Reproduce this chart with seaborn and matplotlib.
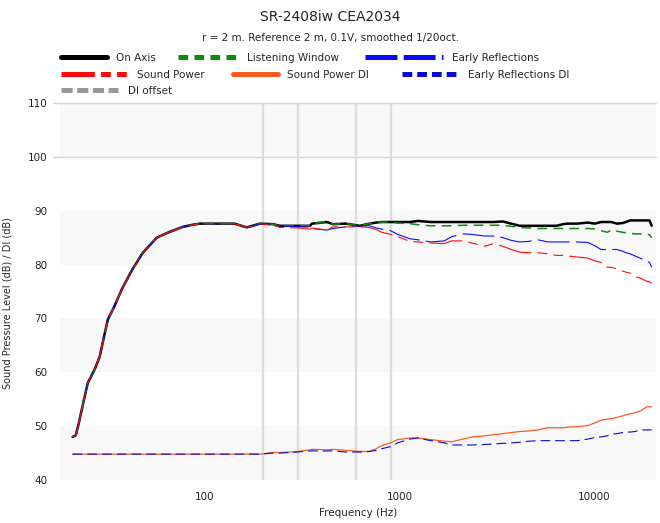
import numpy as np
import pandas as pd
import matplotlib
matplotlib.use("Agg")
import matplotlib.pyplot as plt
from matplotlib.lines import Line2D
from matplotlib.ticker import NullLocator
import seaborn as sns

# data
freq = [20.9, 21.7, 22.5, 23.9, 25.0, 27.1, 28.8, 30.3, 31.7, 34.0, 37.4, 42.2, 48.0, 56.6,
        66.1, 77.1, 86.7, 94.3, 120, 142, 164, 192, 224, 243, 300, 347, 355, 424, 455, 530,
        626, 700, 760, 810, 900, 980, 1130, 1245, 1450, 1700, 1860, 2120, 2360, 2750, 3050,
        3400, 3750, 4150, 4600, 5150, 5800, 6430, 6930, 7300, 8200, 9300, 10100, 10860,
        11700, 12300, 13100, 14000, 14600, 15350, 16260, 17500, 18720, 19300, 19800]

low = [48.0, 48.3, 50.6, 54.9, 58.0, 60.5, 62.9, 66.6, 69.8, 72.0, 75.4, 79.0, 82.2, 85.0,
       86.1, 87.0, 87.4, 87.6, 87.6, 87.6, 86.9, 87.6, 87.5]

on_axis = low + [87.2, 87.2, 87.2, 87.6, 87.9, 87.5, 87.6,
                 87.2, 87.6, 87.8, 87.9, 87.9, 87.9, 87.9, 88.1, 87.9, 87.9, 87.9, 87.9, 87.9,
                 87.9, 87.9, 88.0, 87.6, 87.2, 87.2, 87.2, 87.2, 87.2, 87.5, 87.6, 87.6, 87.8,
                 87.6, 87.9, 87.9, 87.9, 87.6, 87.7, 87.9, 88.2, 88.2, 88.2, 88.2, 88.2, 87.2]

listening_window = low + [87.2, 87.2, 87.2, 87.6, 87.9, 87.5, 87.6,
                          87.2, 87.6, 87.8, 87.9, 87.9, 87.7, 87.6, 87.4, 87.2, 87.2, 87.2, 87.3,
                          87.3, 87.3, 87.3, 87.3, 87.1, 86.9, 86.8, 86.7, 86.7, 86.7, 86.7, 86.7,
                          86.7, 86.7, 86.6, 86.3, 86.0, 86.4, 86.2, 86.0, 85.9, 85.8, 85.7, 85.7,
                          85.7, 85.5, 85.0]

early_reflections = low + [87.2, 87.0, 87.0, 86.7, 86.4, 86.7, 87.0,
                           87.2, 87.2, 86.8, 86.6, 86.3, 85.6, 84.8, 84.6, 84.2, 84.4, 85.2, 85.7,
                           85.6, 85.3, 85.3, 85.0, 84.5, 84.2, 84.3, 84.6, 84.2, 84.2, 84.2, 84.2,
                           84.2, 84.1, 83.5, 82.8, 82.8, 82.8, 82.8, 82.5, 82.2, 82.0, 81.6, 81.1,
                           80.6, 80.4, 79.5]

sound_power = low[:-1] + [87.3, 86.9, 86.8, 86.6, 86.8, 86.4, 87.0, 87.0,
                          87.0, 86.9, 86.5, 86.0, 85.6, 85.2, 84.3, 84.2, 84.0, 83.9, 84.4, 84.4,
                          84.0, 83.4, 83.9, 83.4, 82.8, 82.3, 82.2, 82.2, 82.0, 81.7, 81.7, 81.6,
                          81.4, 81.2, 80.7, 80.4, 79.5, 79.5, 79.2, 78.8, 78.6, 78.4, 77.8, 77.4,
                          76.9, 76.8, 76.5]

sound_power_di = [44.8] * 22 + [45.1, 45.1, 45.3, 45.6, 45.7, 45.6, 45.7, 45.5,
                                45.3, 45.3, 45.8, 46.4, 46.9, 47.5, 47.8, 47.8, 47.5, 47.2, 47.1,
                                47.6, 48.0, 48.2, 48.4, 48.6, 48.8, 49.0, 49.1, 49.3, 49.7, 49.7,
                                49.7, 49.8, 49.9, 50.1, 50.6, 51.1, 51.3, 51.4, 51.6, 51.9, 52.1,
                                52.3, 52.5, 52.9, 53.6, 53.6, 53.6]

early_reflections_di = [44.8] * 22 + [45.0, 45.0, 45.2, 45.4, 45.4, 45.4, 45.4, 45.2,
                                      45.2, 45.3, 45.5, 45.8, 46.2, 46.9, 47.6, 47.8, 47.3, 46.9,
                                      46.5, 46.5, 46.5, 46.6, 46.7, 46.8, 46.9, 47.0, 47.2, 47.3,
                                      47.3, 47.3, 47.3, 47.3, 47.3, 47.6, 47.9, 48.0, 48.2, 48.5,
                                      48.6, 48.8, 48.9, 48.9, 49.0, 49.3, 49.3, 49.3, 49.3]

series = ["On Axis", "Listening Window", "Early Reflections", "Sound Power",
          "Sound Power DI", "Early Reflections DI", "DI offset"]
values = [on_axis, listening_window, early_reflections, sound_power,
          sound_power_di, early_reflections_di]

title = "SR-2408iw CEA2034"
subtitle = "r = 2 m. Reference 2 m, 0.1V, smoothed 1/20oct."

# styles
colors = {"On Axis": "black", "Listening Window": "#128a12", "Early Reflections": "#0a0aff",
          "Sound Power": "#ff0a0a", "Sound Power DI": "#ff5a1e",
          "Early Reflections DI": "#0808d0", "DI offset": "#999999"}
dashes = {"On Axis": "", "Listening Window": (7, 4.5), "Early Reflections": (23, 4.5),
          "Sound Power": (24, 4.5, 7, 4.5, 7, 4.5), "Sound Power DI": "",
          "Early Reflections DI": (7, 3.6), "DI offset": (8, 3.3)}
sizes = {"On Axis": 1.8, "Listening Window": 1.1, "Early Reflections": 0.8,
         "Sound Power": 0.8, "Sound Power DI": 0.9, "Early Reflections DI": 0.8}

sns.set_style("white")
plt.rcParams['font.family'] = ['DejaVu Sans']
plt.rcParams['lines.scale_dashes'] = False

rows = []
for name, vals in zip(series, values):
    for f, v in zip(freq, vals):
        rows.append({"freq": f, "spl": v, "series": name})
df = pd.DataFrame(rows)

fig = plt.figure(figsize=(6.6, 5.23), dpi=100)
ax = fig.add_axes([60 / 660, 1 - 480 / 523, 596 / 660, 377 / 523])

# alternating bands
for lo in [40, 60, 80, 100]:
    ax.axhspan(lo, lo + 10, color="#f8f8f8", zorder=0, lw=0)
for yv in [100, 110]:
    ax.axhline(yv, xmin=-0.012, color="#d4d4d4", lw=1, zorder=1, clip_on=False)
for fv in [200, 300, 600, 900]:
    ax.axvline(fv, color="#dcdcdc", lw=1.6, zorder=1)

sns.lineplot(data=df, x="freq", y="spl", hue="series", style="series", size="series",
             hue_order=series[:6], style_order=series[:6], size_order=series[:6],
             palette=colors, dashes=dashes, sizes=sizes, legend=False, ax=ax, zorder=3)

ax.set_xscale("log")
ax.set_xlim(18, 20840)
ax.set_ylim(40, 110)
ax.set_xticks([100, 1000, 10000])
ax.set_xticklabels(["100", "1000", "10000"])
ax.xaxis.set_minor_locator(NullLocator())
ax.set_yticks(range(40, 111, 10))
ax.tick_params(axis="both", length=0, labelsize=7.5, colors="#222222")
ax.tick_params(axis="y", pad=9)
ax.tick_params(axis="x", pad=9)
for s in ax.spines.values():
    s.set_visible(False)
ax.set_xlabel("Frequency (Hz)", fontsize=7.5, labelpad=4)
ax.set_ylabel("Sound Pressure Level (dB) / DI (dB)", fontsize=7)
ax.yaxis.set_label_coords(-0.08, 0.47)

fig.text(0.5, 1 - 17 / 523, title, ha="center", va="center", fontsize=10)
fig.text(0.5, 1 - 38 / 523, subtitle, ha="center", va="center", fontsize=7.5)

# legend entries placed like the reference
legend_pos = {"On Axis": (61, 58, 4.4), "Listening Window": (178, 58, 5.7),
              "Early Reflections": (365, 58, 7.5), "Sound Power": (61, 75, 6.4),
              "Sound Power DI": (233, 75, 4.3), "Early Reflections DI": (402, 75, 5.4),
              "DI offset": (61, 91, 5.5)}
for name in series:
    x, y, hl = legend_pos[name]
    d = dashes[name]
    h = Line2D([], [], color=colors[name], lw=3.6)
    if d != "":
        h.set_dashes(d)
    fig.legend(handles=[h], labels=[name], loc="center left",
               bbox_to_anchor=(x / 660, 1 - y / 523), frameon=False, fontsize=7.5,
               handlelength=hl, handletextpad=0.9, borderpad=0, borderaxespad=0)

plt.savefig("out.png", dpi=100)
